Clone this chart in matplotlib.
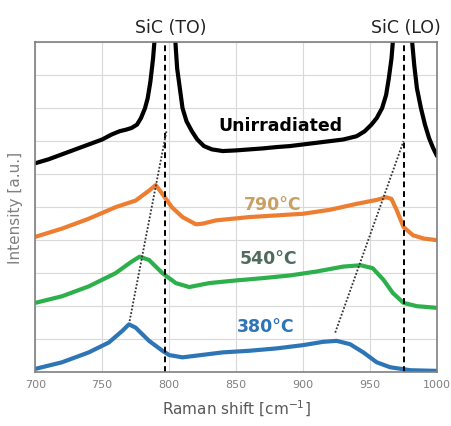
import matplotlib.pyplot as plt

# Raman spectra (x in cm-1, intensity in a.u. with offsets)
x_unirr = [700, 710, 720, 730, 740, 750, 757, 763, 768, 772, 776, 779, 782, 784,
           786, 788, 789, 790, 791, 803, 804, 805, 806, 808, 810, 813, 817, 821,
           826, 832, 840, 850, 860, 870, 880, 890, 900, 910, 920, 930, 940, 946,
           951, 955, 959, 962, 964, 966, 967, 968, 969, 980, 981, 983, 985, 988,
           991, 994, 997, 1000]
y_unirr = [6.33, 6.45, 6.6, 6.75, 6.9, 7.05, 7.2, 7.3, 7.35, 7.4, 7.5, 7.7, 8.0, 8.3,
           8.8, 9.5, 10.0, 10.6, 11.3, 11.3, 10.5, 9.8, 9.2, 8.6, 8.0, 7.6, 7.3, 7.05,
           6.85, 6.75, 6.7, 6.72, 6.75, 6.78, 6.82, 6.85, 6.9, 6.95, 7.0, 7.05, 7.15, 7.3,
           7.5, 7.7, 8.0, 8.4, 8.9, 9.5, 10.0, 10.6, 11.3, 11.3, 10.2, 9.3, 8.6, 8.0,
           7.5, 7.1, 6.8, 6.55]

x_790 = [700, 720, 740, 760, 775, 785, 790, 795, 802, 810, 820, 825, 835, 860, 880,
         900, 920, 940, 955, 962, 966, 970, 975, 982, 990, 1000]
y_790 = [4.1, 4.35, 4.65, 5.0, 5.2, 5.5, 5.67, 5.4, 5.0, 4.7, 4.48, 4.5, 4.6, 4.7, 4.75,
         4.8, 4.92, 5.1, 5.22, 5.3, 5.25, 4.9, 4.4, 4.15, 4.05, 4.0]

x_540 = [700, 720, 740, 760, 772, 778, 785, 795, 805, 815, 830, 850, 870, 890, 910,
         930, 943, 952, 960, 967, 975, 985, 1000]
y_540 = [2.1, 2.3, 2.6, 3.0, 3.35, 3.5, 3.4, 3.0, 2.7, 2.58, 2.7, 2.78, 2.85, 2.93, 3.05,
         3.2, 3.24, 3.15, 2.8, 2.4, 2.1, 2.0, 1.95]

x_380 = [700, 720, 740, 755, 765, 770, 775, 785, 795, 800, 810, 820, 840, 860, 880,
         900, 915, 925, 935, 945, 955, 965, 980, 1000]
y_380 = [0.1, 0.3, 0.6, 0.9, 1.25, 1.45, 1.35, 0.95, 0.65, 0.52, 0.45, 0.5, 0.6, 0.65, 0.72,
         0.82, 0.92, 0.95, 0.85, 0.6, 0.3, 0.15, 0.06, 0.04]

peak_pos = [797, 975]              # SiC TO / LO of unirradiated
peak_names = ['SiC (TO)', 'SiC (LO)']
shift_to = [(770.5, 1.55), (798, 7.3)]   # dotted guide TO
shift_lo = [(924, 1.2), (975, 7.0)]      # dotted guide LO

labels = ['Unirradiated', '790°C', '540°C', '380°C']
label_pos = [(883, 7.5), (877, 5.1), (874, 3.45), (872, 1.4)]
label_colors = ['black', '#C9A063', '#4F6B5C', '#2E75B6']
xticks = [700, 750, 800, 850, 900, 950, 1000]

fig = plt.figure(figsize=(4.51, 4.27), dpi=100)
ax = fig.add_axes([0.078, 0.126, 0.891, 0.773])

ax.plot(x_380, y_380, color='#2E75B6', lw=3, solid_capstyle='round')
ax.plot(x_540, y_540, color='#2DB04B', lw=3, solid_capstyle='round')
ax.plot(x_790, y_790, color='#ED7D31', lw=3, solid_capstyle='round')
ax.plot(x_unirr, y_unirr, color='black', lw=3, solid_capstyle='round')

for p in peak_pos:
    ax.axvline(p, color='black', ls=(0, (3, 2)), lw=1.4)
for seg in (shift_to, shift_lo):
    ax.plot([seg[0][0], seg[1][0]], [seg[0][1], seg[1][1]], color='#333333',
            ls=(0, (1, 1)), lw=1.3)

for t, (lx, ly), c in zip(labels, label_pos, label_colors):
    ax.text(lx, ly, t, color=c, fontsize=12.5, fontweight='bold', ha='center',
            va='center')

ax.text(801, 10.2, peak_names[0], fontsize=12.5, color='#222222', ha='center',
        va='bottom', clip_on=False)
ax.text(977, 10.2, peak_names[1], fontsize=12.5, color='#222222', ha='center',
        va='bottom', clip_on=False)

ax.set_xlim(700, 1000)
ax.set_ylim(0, 10)
ax.set_xticks(xticks)
ax.set_yticks(range(0, 11))
ax.set_yticklabels([])
ax.tick_params(axis='both', length=0, labelsize=8, colors='#808080', pad=5)
ax.grid(True, color='#D9D9D9', lw=0.8)
ax.set_axisbelow(True)
for s in ax.spines.values():
    s.set_color('#808080')
    s.set_linewidth(1.2)

ax.set_xlabel('Raman shift [cm$^{-1}$]', fontsize=11, color='#595959', labelpad=6)
ax.set_ylabel('Intensity [a.u.]', fontsize=11, color='#808080', labelpad=4)

fig.savefig('out.png', dpi=100)
